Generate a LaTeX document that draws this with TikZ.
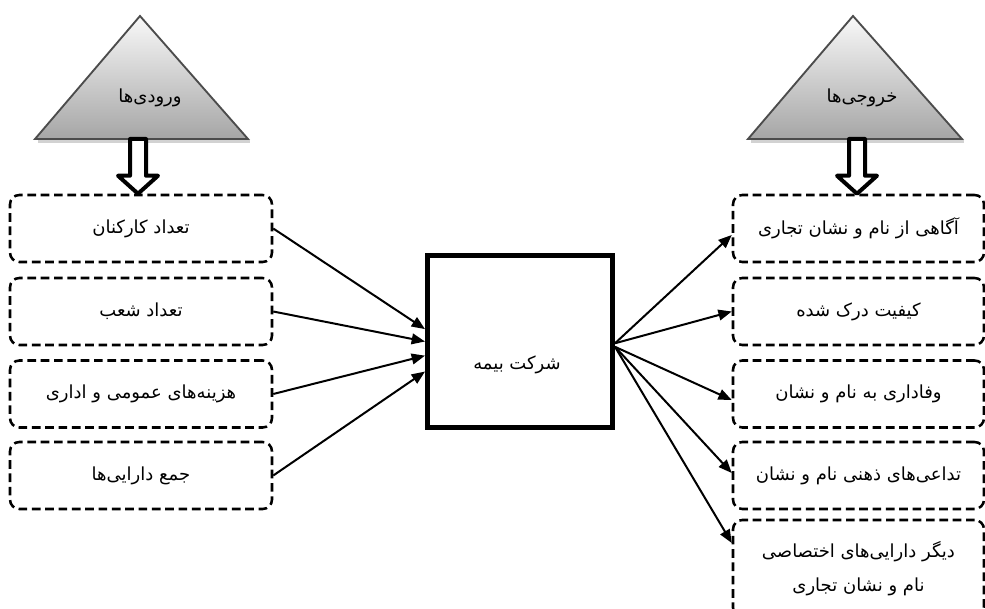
\documentclass[tikz,border=0pt]{standalone}
\usepackage{fontspec}
\usetikzlibrary{calc,arrows.meta}
\TeXXeTstate=1
\newfontfamily\farsi[Script=Arabic]{DejaVu Sans}
\newcommand{\fa}[1]{\beginR #1\endR}

\begin{document}
\begin{tikzpicture}[
        x=0.75pt, y=-0.75pt,
        every node/.style={font=\farsi\fontsize{13.5}{16}\selectfont},
        item box/.style={draw, dash pattern=on 6.5pt off 3.5pt, line width=1.9pt, rounded corners=7pt, inner sep=0pt},
        in box/.style={item box, minimum width=196.5pt, minimum height=50.25pt},
        out box/.style={item box, minimum width=188.25pt, minimum height=50.25pt},
        head/.style={top color=gray!5, bottom color=gray!70, draw=gray!60!black, line width=1.4pt},
        hollow/.style={draw, fill=white, line width=3pt, line join=round},
        link/.style={line width=1.5pt, -{Triangle[length=10pt, width=8pt]}}
      ]

      \useasboundingbox (0,0) rectangle (985,609);

      % the two triangles with a soft shadow under the base
      \draw [gray!35, line width=2pt] (38,141.5) -- (250,141.5);
      \draw [gray!35, line width=2pt] (751,141.5) -- (964,141.5);
      \shade [head] (140,16) -- (248,139) -- (35,139) -- cycle;
      \shade [head] (853,16) -- (962,139) -- (748,139) -- cycle;
      \node (inputs) at (150,98) {\fa{ورودی‌ها}};
      \node (outputs) at (862,98) {\fa{خروجی‌ها}};
      \coordinate (inbase) at (138,139);
      \coordinate (outbase) at (857,139);

      % the firm
      \node[draw, line width=3.75pt, minimum width=138.75pt, minimum height=129pt, inner sep=0pt] (firm) at (520,341.5) {};
      \node (firmtext) at (517,365) {\fa{شرکت بیمه}};

      % inputs
      \foreach \n/\y/\t in {1/228.5/{تعداد کارکنان}, 2/311.5/{تعداد شعب}, 3/394/{هزینه‌های عمومی و اداری}, 4/475.5/{جمع دارایی‌ها}} {
          \node[in box] (in\n) at (141,\y) {\fa{\t}};
        }

      % outputs
      \foreach \n/\y/\t in {1/228.5/{آگاهی از نام و نشان تجاری}, 2/311.5/{کیفیت درک شده}, 3/394/{وفاداری به نام و نشان}, 4/475.5/{تداعی‌های ذهنی نام و نشان}} {
          \node[out box] (out\n) at (858.5,\y) {\fa{\t}};
        }
      \node[item box, minimum width=188.25pt, minimum height=72.75pt, align=center] (out5) at (858.5,568.5)
        {\fa{دیگر دارایی‌های اختصاصی}\\[10pt]\fa{نام و نشان تجاری}};

      % hollow arrows under the triangles
      \foreach \base/\tgt in {inbase/in1, outbase/out1} {
          \draw [hollow] ($(\base)+(-8,0)$) -- ($(\base |- \tgt.north)+(-8,-18)$) -- ($(\base |- \tgt.north)+(-20,-18)$)
            -- (\base |- \tgt.north) -- ($(\base |- \tgt.north)+(20,-18)$) -- ($(\base |- \tgt.north)+(8,-18)$)
            -- ($(\base)+(8,0)$) -- cycle;
        }

      \foreach \n/\e in {1/0.43, 2/0.50, 3/0.58, 4/0.67} {
          \draw [link] (in\n.east) -- ($(firm.north west)!\e!(firm.south west)$);
        }
      \foreach \n/\s/\d in {1/0.51/6.5, 2/0.51/0, 3/0.53/6, 4/0.53/-2.5, 5/0.53/-25.5} {
          \draw [link] ($(firm.north east)!\s!(firm.south east)$) -- ($(out\n.west)+(0,\d)$);
        }

    \end{tikzpicture}
\end{document}
